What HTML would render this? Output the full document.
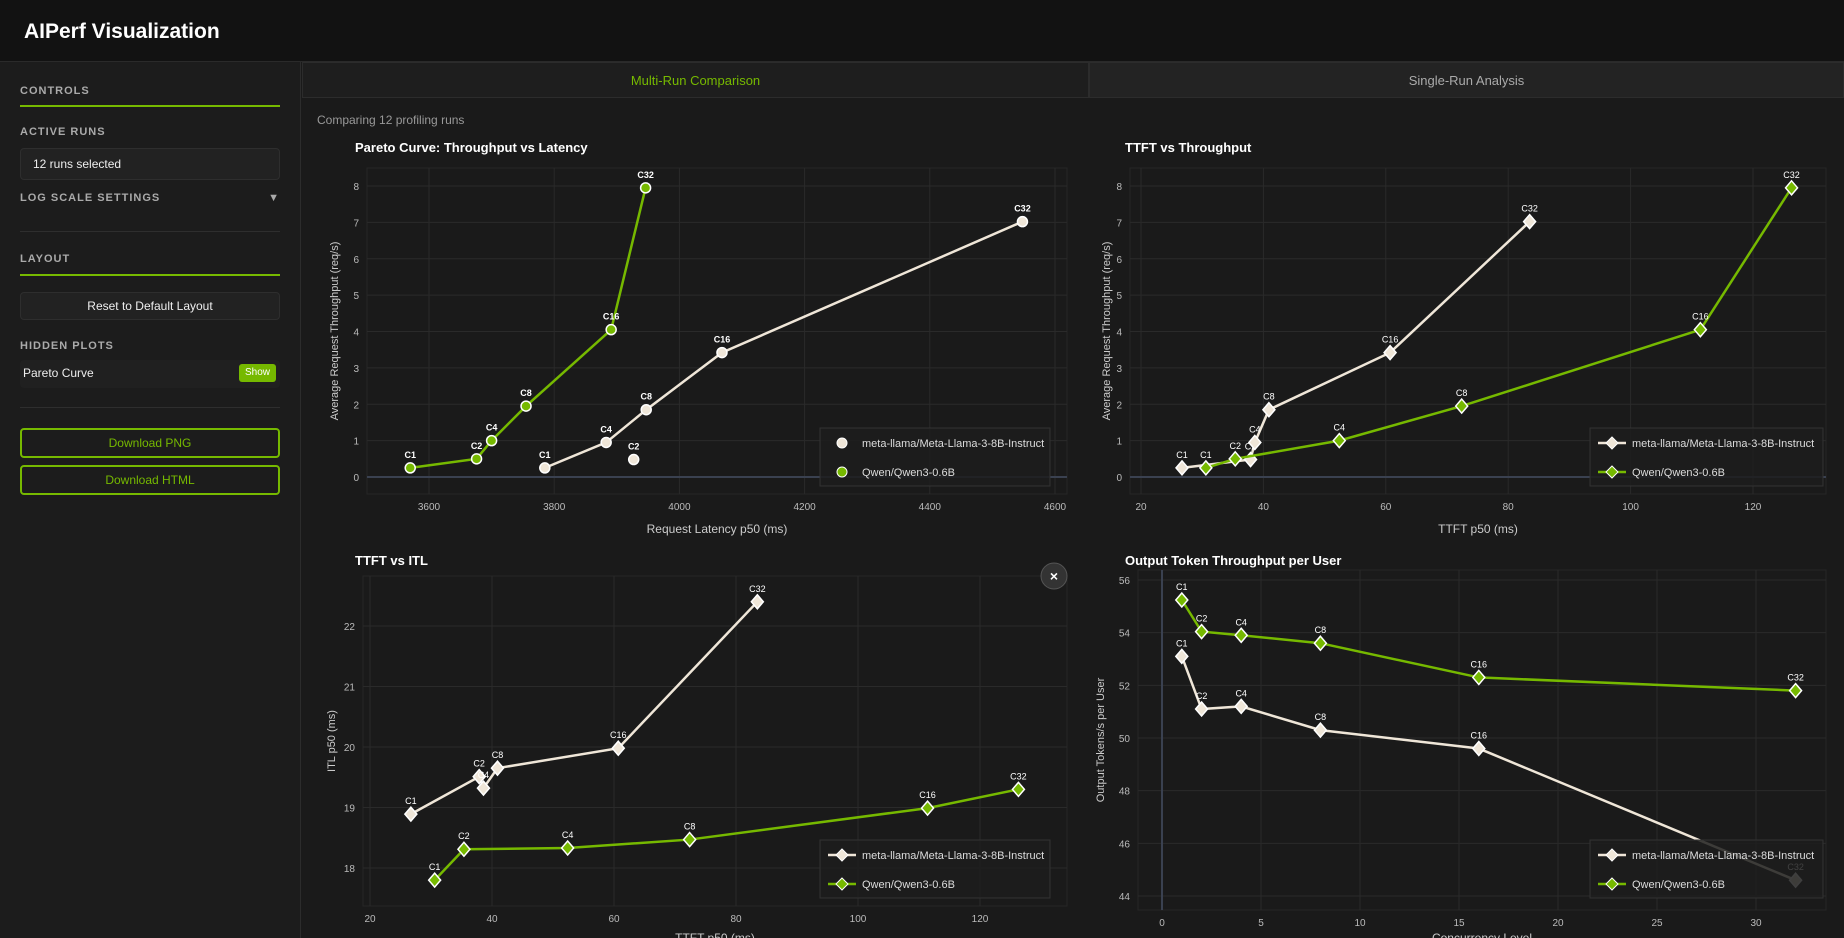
<!DOCTYPE html>
<html><head><meta charset="utf-8"><style>
*{box-sizing:border-box;margin:0;padding:0}
body{width:1844px;height:938px;overflow:hidden;background:#1a1a1a;font-family:"Liberation Sans",sans-serif;color:#ddd;position:relative}
.hdr{position:absolute;left:0;top:0;width:1844px;height:62px;background:#121212;border-bottom:1px solid #2a2a2a}
.hdr h1{position:absolute;left:24px;top:20px;font-size:21px;color:#fff;font-weight:bold}
.side{position:absolute;left:0;top:62px;width:301px;height:876px;background:#1c1c1c;border-right:1px solid #2c2c2c}
.sec{position:absolute;left:20px;font-size:11px;letter-spacing:1px;color:#aaa;font-weight:bold}
.gl{position:absolute;left:20px;width:260px;height:2px;background:#76b900}
.hr{position:absolute;left:20px;width:260px;height:1px;background:#2e2e2e}
.box{position:absolute;left:20px;width:260px;background:#222;border:1px solid #2e2e2e;border-radius:4px;font-size:12px;color:#eee}
.dl{position:absolute;left:20px;width:260px;height:30px;border:2px solid #76b900;border-radius:4px;color:#76b900;font-size:12px;text-align:center;line-height:26px}
.tab{position:absolute;top:62px;height:36px;font-size:13px;text-align:center;line-height:36px;border:1px solid #2c2c2c;background:#1e1e1e}
</style></head><body>
<div class="hdr"><h1>AIPerf Visualization</h1></div>
<div class="side"></div>
<div class="sec" style="top:85px">CONTROLS</div>
<div class="gl" style="top:105px"></div>
<div class="sec" style="top:126px">ACTIVE RUNS</div>
<div class="box" style="top:148px;height:32px;line-height:30px;padding-left:12px">12 runs selected</div>
<div class="sec" style="top:192px;width:260px">LOG SCALE SETTINGS<span style="position:absolute;right:0;top:0">▼</span></div>
<div class="hr" style="top:231px"></div>
<div class="sec" style="top:253px">LAYOUT</div>
<div class="gl" style="top:274px"></div>
<div class="box" style="top:292px;height:28px;line-height:26px;text-align:center">Reset to Default Layout</div>
<div class="sec" style="top:340px">HIDDEN PLOTS</div>
<div class="box" style="top:360px;height:28px;line-height:26px;padding-left:3px;background:#202020;border:none">Pareto Curve<span style="position:absolute;right:4px;top:4px;background:#76b900;color:#fff;font-size:10px;line-height:18px;padding:0 6px;border-radius:3px">Show</span></div>
<div class="hr" style="top:407px"></div>
<div class="dl" style="top:428px">Download PNG</div>
<div class="dl" style="top:465px">Download HTML</div>
<div class="tab" style="left:302px;width:787px;color:#76b900">Multi-Run Comparison</div>
<div class="tab" style="left:1089px;width:755px;color:#aaa;background:#232323">Single-Run Analysis</div>
<div style="position:absolute;left:317px;top:113px;font-size:12px;color:#999">Comparing 12 profiling runs</div>
<svg id="s" width="1844" height="938" style="position:absolute;left:0;top:0" font-family="Liberation Sans, sans-serif"></svg>
<script>
// Pareto data
const paretoLlamaX=[3785,3883,3947,4068,4548];
const paretoLlamaY=[0.25,0.95,1.85,3.42,7.02];
const paretoLlamaL=["C1","C4","C8","C16","C32"];
const paretoLlamaExtraX=[3927];
const paretoLlamaExtraY=[0.48];
const paretoQwenX=[3570,3676,3700,3755,3891,3946];
const paretoQwenY=[0.25,0.5,1.0,1.95,4.05,7.95];
const labels6=["C1","C2","C4","C8","C16","C32"];
// TTFT vs throughput
const ttftLlama=[26.7,37.9,38.6,40.9,60.7,83.5];
const thrLlama=[0.25,0.48,0.95,1.85,3.42,7.02];
const ttftQwen=[30.6,35.4,52.4,72.4,111.4,126.3];
const thrQwen=[0.25,0.5,1.0,1.95,4.05,7.95];
// ITL
const itlLlama=[18.89,19.51,19.32,19.65,19.98,22.4];
const itlQwen=[17.8,18.31,18.33,18.47,18.99,19.3];
// Output per user
const conc=[1,2,4,8,16,32];
const otpLlama=[53.1,51.1,51.2,50.3,49.6,44.6];
const otpQwen=[55.24,54.04,53.9,53.6,52.3,51.8];
const ticks1X=[3600,3800,4000,4200,4400,4600], ticks1Y=[0,1,2,3,4,5,6,7,8];
const ticks2X=[20,40,60,80,100,120];
const ticks3Y=[18,19,20,21,22];
const ticks4X=[0,5,10,15,20,25,30], ticks4Y=[44,46,48,50,52,54,56];

const S=document.getElementById('s');const NS='http://www.w3.org/2000/svg';
function el(t,a,txt){const e=document.createElementNS(NS,t);for(const k in a)e.setAttribute(k,a[k]);if(txt!==undefined)e.textContent=txt;S.appendChild(e);return e;}
const CREAM='#efe6d8',GREEN='#76b900';
function lin(d0,d1,p0,p1){return v=>p0+(v-d0)*(p1-p0)/(d1-d0);}
function chart(o){
  const {L,R,T,B,sx,sy,xt,yt}=o;
  let t=el('text',{x:o.tx,y:o.ty,fill:'#fff','font-size':13,'font-weight':'bold'},o.title);
  
  el('rect',{x:L,y:T,width:R-L,height:B-T,fill:'none',stroke:'#262626'});
  xt.forEach(v=>{el('line',{x1:sx(v),x2:sx(v),y1:T,y2:B,stroke:'#2a2a2a'});
    let e=el('text',{x:sx(v),y:B+16,fill:'#bbb','font-size':10,'text-anchor':'middle'},v);
    });
  yt.forEach(v=>{el('line',{x1:L,x2:R,y1:sy(v),y2:sy(v),stroke:'#2a2a2a'});
    let e=el('text',{x:L-8,y:sy(v)+4,fill:'#bbb','font-size':10,'text-anchor':'end'},v);
    });
  if(o.zeroY!==undefined) el('line',{x1:L,x2:R,y1:sy(o.zeroY),y2:sy(o.zeroY),stroke:'#3a4150','stroke-width':2});
  if(o.zeroX!==undefined) el('line',{x1:sx(o.zeroX),x2:sx(o.zeroX),y1:T,y2:B,stroke:'#3a4150','stroke-width':2});
  let xl=el('text',{x:(L+R)/2,y:o.xly,fill:'#ccc','font-size':12,'text-anchor':'middle'},o.xlabel);
  
  let yl=el('text',{x:0,y:0,fill:'#ccc','font-size':11,'text-anchor':'middle',transform:`translate(${o.ylx},${(T+B)/2}) rotate(-90)`},o.ylabel);
  
}
function series(xs,ys,lbs,sx,sy,col,shape,name,line=true){
  if(line){let p=el('polyline',{points:xs.map((x,i)=>sx(x)+','+sy(ys[i])).join(' '),fill:'none',stroke:col,'stroke-width':2.5});
    }
  xs.forEach((x,i)=>{const X=sx(x),Y=sy(ys[i]);let m;
    if(shape==='c')m=el('circle',{cx:X,cy:Y,r:5,fill:col,stroke:'#fff','stroke-width':1.5});
    else m=el('path',{d:`M${X},${Y-7}L${X+6},${Y}L${X},${Y+7}L${X-6},${Y}Z`,fill:col,stroke:'#fff','stroke-width':1.5});
    
    let t=el('text',{x:X,y:Y-10,fill:'#fff','font-size':9,'text-anchor':'middle','font-weight':shape==='c'?'bold':'normal'},lbs[i]);
    });
}
function legend(x,y,w,shape){
  el('rect',{x:x,y:y,width:w,height:58,fill:'#1d1d1d','fill-opacity':0.85,stroke:'#333'});
  [[CREAM,'meta-llama/Meta-Llama-3-8B-Instruct'],[GREEN,'Qwen/Qwen3-0.6B']].forEach((d,i)=>{
    const cy=y+15+i*29,cx=x+22;
    if(shape==='c')el('circle',{cx:cx,cy:cy,r:5,fill:d[0],stroke:'#fff'});
    else{el('line',{x1:cx-14,x2:cx+14,y1:cy,y2:cy,stroke:d[0],'stroke-width':2.5});el('path',{d:`M${cx},${cy-6}L${cx+6},${cy}L${cx},${cy+6}L${cx-6},${cy}Z`,fill:d[0],stroke:'#fff'});}
    let t=el('text',{x:x+42,y:cy+4,fill:'#ddd','font-size':11},d[1]);
    });
}
// Chart 1
let sx=lin(3600,4600,429,1055),sy=lin(0,8,477,186);
chart({L:367,R:1067,T:168,B:494,sx,sy,xt:ticks1X,yt:ticks1Y,tx:355,ty:152,title:'Pareto Curve: Throughput vs Latency',name:'pareto',xlabel:'Request Latency p50 (ms)',xly:533,ylabel:'Average Request Throughput (req/s)',ylx:338,zeroY:0});
series(paretoLlamaX,paretoLlamaY,paretoLlamaL,sx,sy,CREAM,'c','llama');
series(paretoLlamaExtraX,paretoLlamaExtraY,["C2"],sx,sy,CREAM,'c','llama-c2',false);
series(paretoQwenX,paretoQwenY,labels6,sx,sy,GREEN,'c','qwen');
legend(820,428,230,'c');
// Chart 2
sx=lin(20,120,1141,1753);
chart({L:1130,R:1826,T:168,B:494,sx,sy,xt:ticks2X,yt:ticks1Y,tx:1125,ty:152,title:'TTFT vs Throughput',name:'ttft-throughput',xlabel:'TTFT p50 (ms)',xly:533,ylabel:'Average Request Throughput (req/s)',ylx:1110,zeroY:0});
series(ttftLlama,thrLlama,labels6,sx,sy,CREAM,'d','llama');
series(ttftQwen,thrQwen,labels6,sx,sy,GREEN,'d','qwen');
legend(1590,428,233,'d');
// Chart 3
sx=lin(20,120,370,980);sy=lin(18,22,868,626);
chart({L:363,R:1067,T:576,B:906,sx,sy,xt:ticks2X,yt:ticks3Y,tx:355,ty:565,title:'TTFT vs ITL',name:'ttft-itl',xlabel:'TTFT p50 (ms)',xly:942,ylabel:'ITL p50 (ms)',ylx:335});
series(ttftLlama,itlLlama,labels6,sx,sy,CREAM,'d','llama');
series(ttftQwen,itlQwen,labels6,sx,sy,GREEN,'d','qwen');
legend(820,840,230,'d');
// Chart 4
sx=lin(0,30,1162,1756);sy=lin(44,56,896,580);
chart({L:1138,R:1826,T:570,B:910,sx,sy,xt:ticks4X,yt:ticks4Y,tx:1125,ty:565,title:'Output Token Throughput per User',name:'output-per-user',xlabel:'Concurrency Level',xly:942,ylabel:'Output Tokens/s per User',ylx:1104,zeroX:0});
series(conc,otpLlama,labels6,sx,sy,CREAM,'d','llama');
series(conc,otpQwen,labels6,sx,sy,GREEN,'d','qwen');
legend(1590,840,233,'d');
// close button
let c=el('circle',{cx:1054,cy:576,r:13,fill:'#333',stroke:'#555'});

el('text',{x:1054,y:581,fill:'#fff','font-size':14,'text-anchor':'middle','font-weight':'bold'},'×');
</script>
</body></html>
